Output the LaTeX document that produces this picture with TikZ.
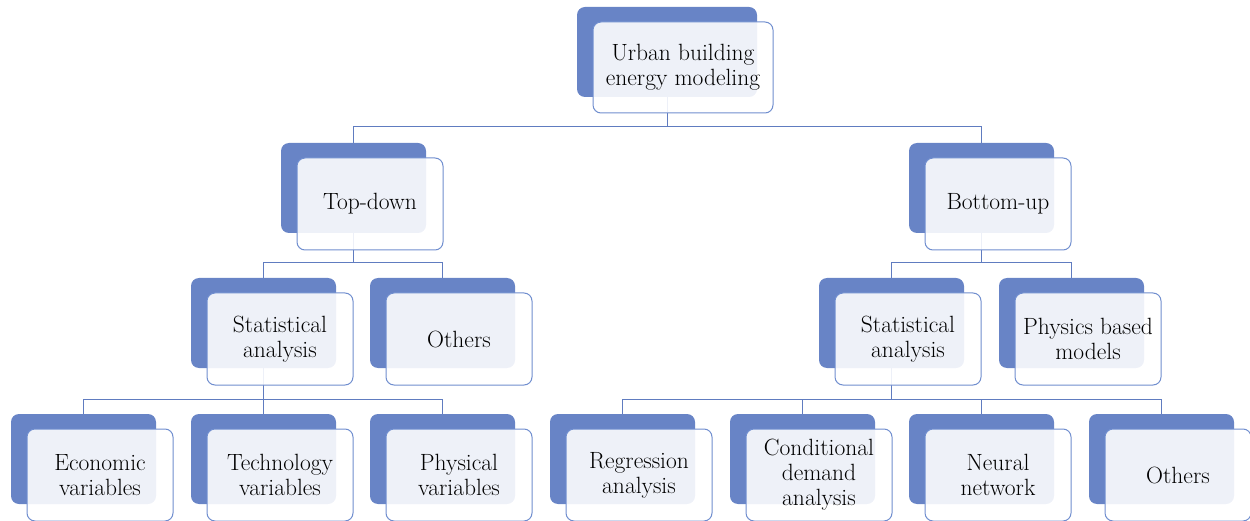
\documentclass[tikz,border=0pt]{standalone}
\usetikzlibrary{backgrounds}
\definecolor{backblue}{RGB}{104,132,198}
\definecolor{frontline}{RGB}{112,142,207}
\definecolor{linkblue}{RGB}{96,124,192}
\tikzset{
  back/.style={fill=backblue, draw=none, rounded corners=8pt, minimum width=145pt, minimum height=90pt, inner sep=0pt},
  front/.style={fill=white, fill opacity=0.89, text opacity=1, draw=frontline, line width=1pt, rounded corners=8pt, minimum width=146pt, minimum height=92pt, inner sep=0pt, align=center, font=\fontsize{23.5}{25}\selectfont},
  link/.style={draw=linkblue, line width=1pt},
}
\newcommand\elem[4]{%
  \node[back] (#1) at ({#2+72.5},{#3+45}) {};
  \node[front] (#1f) at ({#2+16+73},{#3+15+46}) {#4};
}
\begin{document}
\begin{tikzpicture}[x=1pt,y=-1pt]
\useasboundingbox (0,0) rectangle (1250,521);
% root
\node[back, minimum width=180pt] (root) at (667,52) {};
\node[front, minimum width=180pt, minimum height=91pt] (rootf) at (683,67.5) {Urban building\\energy modeling};
% level 2
\elem{td}{281}{143}{Top-down}
\elem{bu}{909}{143}{Bottom-up}
% level 3
\elem{sal}{191}{278}{Statistical\\analysis}
\elem{otl}{370}{278}{Others}
\elem{sar}{819}{278}{Statistical\\analysis}
\elem{pbm}{999}{278}{Physics based\\models}
% level 4
\elem{eco}{11}{414}{Economic\\variables}
\elem{tec}{191}{414}{Technology\\variables}
\elem{phy}{370}{414}{Physical\\variables}
\elem{reg}{550}{414}{Regression\\analysis}
\elem{cda}{730}{414}{Conditional\\demand\\analysis}
\elem{nn}{909}{414}{Neural\\network}
\elem{otr}{1089}{414}{Others}
\begin{scope}[on background layer]
\coordinate (b1) at (0,127);
\coordinate (b2) at (0,263);
\coordinate (b3) at (0,399);
\draw[link] (root.south) -- (root.south |- b1) -| (td.north);
\draw[link] (root.south) -- (root.south |- b1) -| (bu.north);
\draw[link] (td.south) -- (td.south |- b2) -| (sal.north);
\draw[link] (td.south) -- (td.south |- b2) -| (otl.north);
\draw[link] (bu.south) -- (bu.south |- b2) -| (sar.north);
\draw[link] (bu.south) -- (bu.south |- b2) -| (pbm.north);
\draw[link] (sal.south) -- (sal.south |- b3) -| (eco.north);
\draw[link] (sal.south) -- (sal.south |- b3) -| (tec.north);
\draw[link] (sal.south) -- (sal.south |- b3) -| (phy.north);
\draw[link] (sar.south) -- (sar.south |- b3) -| (reg.north);
\draw[link] (sar.south) -- (sar.south |- b3) -| (cda.north);
\draw[link] (sar.south) -- (sar.south |- b3) -| (nn.north);
\draw[link] (sar.south) -- (sar.south |- b3) -| (otr.north);
\end{scope}
\end{tikzpicture}
\end{document}
